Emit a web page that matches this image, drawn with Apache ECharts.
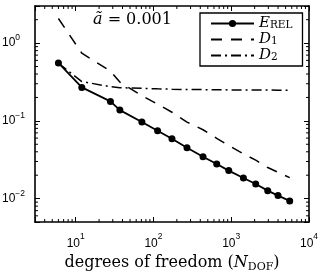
<!DOCTYPE html>
<html>
<head>
<meta charset="utf-8">
<script src="https://cdn.jsdelivr.net/npm/echarts@6/dist/echarts.min.js"></script>
<style>html,body{margin:0;padding:0;background:#fff}#c{width:327px;height:273px}</style>
</head>
<body>
<div id="c"></div>
<script>
// ---- data ----
const nDof = [6, 12, 28, 37, 71, 113, 173, 270, 434, 651, 929, 1435, 2065, 2946, 3995, 5650];
const eRel = [0.556, 0.269, 0.178, 0.1375, 0.0965, 0.0745, 0.0589, 0.0451, 0.0346, 0.0279, 0.0229, 0.0184, 0.0154, 0.01265, 0.01092, 0.00933];
const d1   = [2.07, 0.741, 0.435, 0.315, 0.211, 0.164, 0.129, 0.0964, 0.0768, 0.0596, 0.0481, 0.0377, 0.0312, 0.0251, 0.0218, 0.0186];
const d2   = [0.55, 0.32, 0.275, 0.267, 0.262, 0.258, 0.255, 0.253, 0.252, 0.251, 0.250, 0.250, 0.249, 0.249, 0.248, 0.248];
const xTickExps = [1, 2, 3, 4];
const yTickExps = [-2, -1, 0];
const xRange = [3, 10000];
const yRange = [0.005, 3];
const minorMult = [2, 3, 4, 5, 6, 7, 8, 9];

function minorTicks(range) {
  const out = [];
  for (let e = Math.floor(Math.log10(range[0])); e <= Math.ceil(Math.log10(range[1])); e++) {
    for (const m of minorMult) {
      const v = m * Math.pow(10, e);
      if (v > range[0] * 1.0001 && v < range[1] * 0.9999) out.push(v);
    }
  }
  return out;
}
const xMinor = minorTicks(xRange);
const yMinor = minorTicks(yRange);

function expLabel(v, exps) {
  const l = Math.log10(v);
  const e = Math.round(l);
  if (Math.abs(l - e) > 1e-6 || exps.indexOf(e) < 0) return '';
  return '{b|10}{e|' + String(e).replace('-', '\u2212') + '}';
}

const chart = echarts.init(document.getElementById('c'), null, {renderer: 'canvas'});
const black = '#000';
const serif = 'DejaVu Serif';
const sans = 'Liberation Sans';

function baseAxis(extra) {
  return Object.assign({
    type: 'log', logBase: 10,
    axisLine: {show: true, onZero: false, lineStyle: {color: black, width: 1.6}},
    axisTick: {show: true, inside: true, length: 5, lineStyle: {color: black, width: 1}},
    splitLine: {show: false},
    minorTick: {show: false},
    minorSplitLine: {show: false}
  }, extra);
}

const option = {
  animation: false,
  backgroundColor: '#fff',
  grid: {left: 35, top: 6, width: 274, height: 216, containLabel: false, outerBoundsMode: 'none'},
  title: {
    text: '{a|ã}{b| = 0.001}',
    left: 93, top: 12, padding: 0,
    textStyle: {
      fontWeight: 'normal',
      rich: {
        a: {fontFamily: serif, fontStyle: 'italic', fontWeight: 'normal', fontSize: 16, color: black},
        b: {fontFamily: serif, fontWeight: 'normal', fontSize: 16, color: black}
      }
    }
  },
  legend: {
    orient: 'vertical',
    left: 200, top: 13,
    padding: [3, 10, 3, 10],
    itemGap: 1,
    itemWidth: 43, itemHeight: 9,
    backgroundColor: '#fff',
    borderColor: black, borderWidth: 1.3, borderRadius: 0,
    data: [
      {name: 'E'},
      {name: 'D1', itemStyle: {opacity: 0}},
      {name: 'D2', itemStyle: {opacity: 0}}
    ],
    formatter: function (name) {
      if (name === 'E') return '{i|E}{s|REL}';
      if (name === 'D1') return '{i|D}{s|1}';
      return '{i|D}{s|2}';
    },
    textStyle: {
      color: black,
      rich: {
        i: {fontFamily: serif, fontStyle: 'italic', fontSize: 15, lineHeight: 15, color: black},
        s: {fontFamily: serif, fontSize: 10.5, lineHeight: 10, verticalAlign: 'bottom', color: black}
      }
    }
  },
  xAxis: [
    baseAxis({
      min: xRange[0], max: xRange[1], position: 'bottom',
      axisLabel: {
        show: true, margin: 10, formatter: v => expLabel(v, xTickExps),
        rich: {
          b: {fontFamily: sans, fontSize: 12, color: black},
          e: {fontFamily: sans, fontSize: 8.5, color: black, padding: [0, 0, 15, 0]}
        }
      },
      name: '{r|degrees of freedom (}{i|N}{s|DOF}{r|)}',
      nameLocation: 'middle', nameGap: 28,
      nameTextStyle: {
        rich: {
          r: {fontFamily: serif, fontSize: 16, lineHeight: 20, color: black},
          i: {fontFamily: serif, fontStyle: 'italic', fontSize: 16, lineHeight: 20, color: black},
          s: {fontFamily: serif, fontSize: 11, lineHeight: 12, verticalAlign: 'bottom', color: black}
        }
      }
    }),
    baseAxis({min: xRange[0], max: xRange[1], position: 'top', axisLabel: {show: false}})
  ],
  yAxis: [
    baseAxis({
      min: yRange[0], max: yRange[1], position: 'left',
      axisLabel: {
        show: true, align: 'left', margin: 33, formatter: v => expLabel(v, yTickExps),
        rich: {
          b: {fontFamily: sans, fontSize: 12, color: black},
          e: {fontFamily: sans, fontSize: 8.5, color: black, padding: [0, 0, 10, 0]}
        }
      }
    }),
    baseAxis({min: yRange[0], max: yRange[1], position: 'right', axisLabel: {show: false}})
  ],
  series: [
    {
      name: 'E', type: 'line', xAxisIndex: 0, yAxisIndex: 0,
      data: nDof.map((x, i) => [x, eRel[i]]),
      symbol: 'circle', symbolSize: 7, showSymbol: true,
      lineStyle: {color: black, width: 1.8},
      itemStyle: {color: black},
      z: 5
    },
    {
      name: 'D1', type: 'line', xAxisIndex: 0, yAxisIndex: 0,
      data: nDof.map((x, i) => [x, d1[i]]),
      symbol: 'none',
      lineStyle: {color: black, width: 1.5, type: [11, 9]},
      itemStyle: {color: black},
      z: 4
    },
    {
      name: 'D2', type: 'line', xAxisIndex: 0, yAxisIndex: 0,
      data: nDof.map((x, i) => [x, d2[i]]),
      symbol: 'none',
      lineStyle: {color: black, width: 1.5, type: [10, 4, 2, 4]},
      itemStyle: {color: black},
      z: 4
    },
    {
      type: 'custom', xAxisIndex: 0, yAxisIndex: 0, silent: true,
      data: xMinor.map(v => [v, yRange[0]]),
      renderItem: function (params, api) {
        const p = api.coord([api.value(0), api.value(1)]);
        const cs = params.coordSys;
        const st = {stroke: black, lineWidth: 1};
        return {type: 'group', children: [
          {type: 'line', shape: {x1: p[0], y1: cs.y + cs.height, x2: p[0], y2: cs.y + cs.height - 3}, style: st},
          {type: 'line', shape: {x1: p[0], y1: cs.y, x2: p[0], y2: cs.y + 3}, style: st}
        ]};
      }
    },
    {
      type: 'custom', xAxisIndex: 0, yAxisIndex: 0, silent: true,
      data: yMinor.map(v => [xRange[0], v]),
      renderItem: function (params, api) {
        const p = api.coord([api.value(0), api.value(1)]);
        const cs = params.coordSys;
        const st = {stroke: black, lineWidth: 1};
        return {type: 'group', children: [
          {type: 'line', shape: {x1: cs.x, y1: p[1], x2: cs.x + 3, y2: p[1]}, style: st},
          {type: 'line', shape: {x1: cs.x + cs.width, y1: p[1], x2: cs.x + cs.width - 3, y2: p[1]}, style: st}
        ]};
      }
    }
  ]
};
chart.setOption(option);
</script>
</body>
</html>
